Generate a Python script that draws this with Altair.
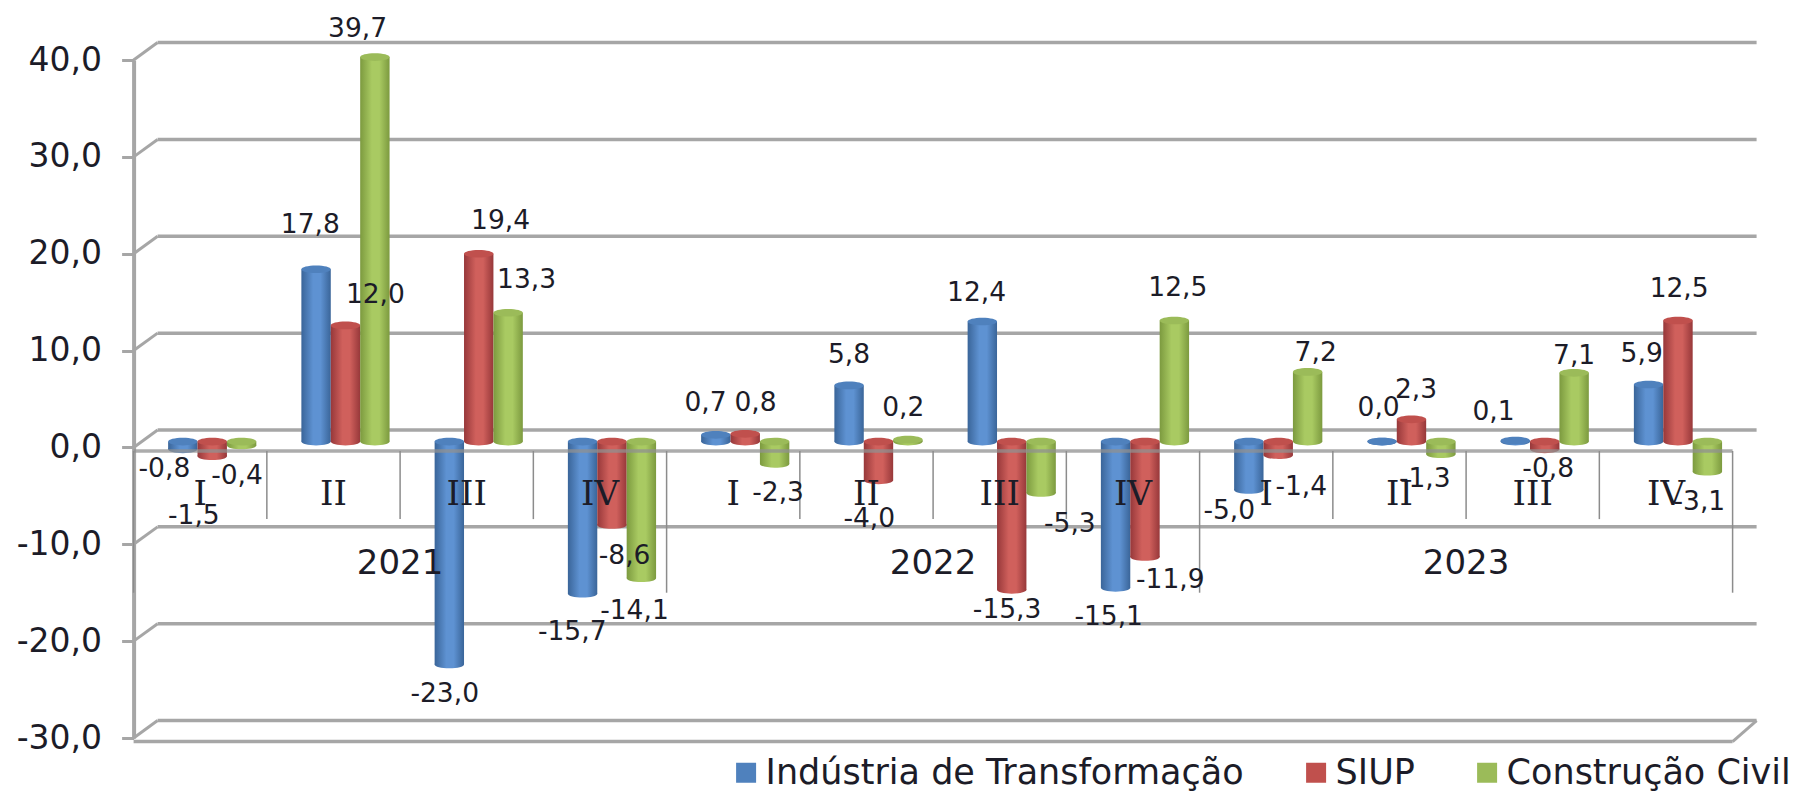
import altair as alt
import pandas as pd

quarters = ["I", "II", "III", "IV"] * 3
years = ["2021", "2022", "2023"]
series = ["Indústria de Transformação", "SIUP", "Construção Civil"]
industria = [-0.8, 17.8, -23.0, -15.7, 0.7, 5.8, 12.4, -15.1, -5.0, 0.0, 0.1, 5.9]
siup = [-1.5, 12.0, 19.4, -8.6, 0.8, -4.0, -15.3, -11.9, -1.4, 2.3, -0.8, 12.5]
construcao = [-0.4, 39.7, 13.3, -14.1, -2.3, 0.2, -5.3, 12.5, 7.2, -1.3, 7.1, -3.1]
values = [industria, siup, construcao]

# label nudges from the end of each bar, the labels were hand-placed in the original
nudge_x = [
    [-16, -5, -4, -9, -9, 0, -5, -6, -17, -3, -19, -6],
    [-16, 26, 19, 11, 9, -8, -4, 22, 20, 4, 3, 1],
    [-4, -15, 16, -6, 3, -4, 25, 3, 7, -14, 0, -7],
]
nudge_y = [
    [14, -42, 22, 30, -31, -30, -28, 22, 15, -33, -28, -30],
    [49, -30, -32, 24, -30, 30, 14, 17, 24, -29, 14, -31],
    [23, -28, -32, 25, 22, -31, 24, -32, -20, 18, -18, 23],
]

colors = ["#4F81BD", "#C0504D", "#9BBB59"]
edges = ["#3A6599", "#97383A", "#7C9A3F"]
mids = ["#5E92D2", "#D0605C", "#A9CA62"]
GRID = "#a6a6a6"
TXT = "#1c1c28"
FONT = "DejaVu Sans"

W, H = 1599, 678
UX, UY = W / 12, H / 70
DEPTH_X, DEPTH_Y = 24 / UX, 1.8
FRONT = -0.37
BAR = 29.4 / UX
SHIFT_X, SHIFT_Y = 12 / UX, 0.6
LABEL_Y = 0.2
PX = 1.1505

rows, labels = [], []
for s, name in enumerate(series):
    for i, v in enumerate(values[s]):
        c = i + 0.5 + SHIFT_X + (s - 1) * BAR
        rows.append({"series": name, "s": s, "x1": c - BAR / 2, "x2": c + BAR / 2, "xc": c,
                     "hi": max(v, 0) + SHIFT_Y, "lo": min(v, 0) + SHIFT_Y})
        labels.append({"t": f"{v:.1f}".replace(".", ","),
                       "x": c + nudge_x[s][i] * PX / UX,
                       "y": v + LABEL_Y - nudge_y[s][i] * PX / UY})
bars = pd.DataFrame(rows)
lab = pd.DataFrame(labels)

levels = list(range(-30, 50, 10))
XS = alt.Scale(domain=[0, 12], nice=False, zero=False)
YS = alt.Scale(domain=[-30, 40], nice=False, zero=False)
YAX = alt.Axis(
    values=levels,
    labelExpr="replace(replace(format(datum.value,'.1f'),'.',','),'\u2212','-')",
    title=None,
    labelFont=FONT, labelFontSize=33, labelColor=TXT, labelPadding=20,
    tickSize=12, tickColor=GRID, tickWidth=3, domainColor=GRID, domainWidth=4,
    grid=False)


def X(f):
    return alt.X(f, type="quantitative", scale=XS, axis=None)


def Y(f):
    return alt.Y(f, type="quantitative", scale=YS, axis=YAX)


grid = pd.DataFrame({"v": levels, "b": [v + DEPTH_Y for v in levels],
                     "x0": [0] * 8, "xd": [DEPTH_X] * 8, "xe": [12 + DEPTH_X] * 8})

layers = []
# side-wall diagonals from the axis to the back wall
layers.append(alt.Chart(grid).mark_rule(color=GRID, strokeWidth=3).encode(
    x=X("x0"), x2=alt.X2("xd"), y=Y("v"), y2=alt.Y2("b")))
# back wall lines
layers.append(alt.Chart(grid).mark_rule(color=GRID, strokeWidth=3.5).encode(
    x=X("xd"), x2=alt.X2("xe"), y=Y("b")))

# floor
floor = pd.DataFrame({"x0": [0], "x1": [12], "xr": [12 + DEPTH_X], "v": [-30 + FRONT], "b": [-30 + DEPTH_Y]})
layers.append(alt.Chart(floor).mark_rule(color=GRID, strokeWidth=3.5).encode(
    x=X("x0"), x2=alt.X2("x1"), y=Y("v")))
layers.append(alt.Chart(floor).mark_rule(color=GRID, strokeWidth=3).encode(
    x=X("x1"), x2=alt.X2("xr"), y=Y("v"), y2=alt.Y2("b")))

ELLIPSE = "M-1,0 A1,0.26 0 1 1 1,0 A1,0.26 0 1 1 -1,0 Z"


def grad(s):
    return alt.LinearGradient(
        gradient="linear", x1=0, x2=1, y1=0, y2=0,
        stops=[alt.GradientStop(color=edges[s], offset=0),
               alt.GradientStop(color=mids[s], offset=0.4),
               alt.GradientStop(color=mids[s], offset=0.65),
               alt.GradientStop(color=edges[s], offset=1)])


for s, name in enumerate(series):
    d = bars[bars["s"] == s]
    layers.append(alt.Chart(d).mark_point(filled=True, shape=ELLIPSE, size=864, opacity=1,
                                          fill=grad(s), strokeWidth=0).encode(
        x=X("xc"), y=Y("lo")))
    layers.append(alt.Chart(d).mark_rect(color=grad(s)).encode(
        x=X("x1"), x2=alt.X2("x2"), y=Y("hi"), y2=alt.Y2("lo")))
    layers.append(alt.Chart(d).mark_point(filled=True, shape=ELLIPSE, size=864, opacity=1,
                                          strokeWidth=0).encode(
        x=X("xc"), y=Y("hi"),
        color=alt.Color("series:N", scale=alt.Scale(domain=series, range=colors), legend=alt.Legend(
            orient="none", legendX=595, legendY=695, direction="horizontal", columns=3,
            title=None, symbolType="square", symbolSize=400, symbolOpacity=1,
            symbolStrokeWidth=0, labelFont=FONT, labelFontSize=35, labelColor=TXT,
            labelLimit=700, columnPadding=54, labelOffset=2))))

# front zero line, seen faintly across the bars
zero = pd.DataFrame({"x0": [0], "x1": [12], "v": [FRONT]})
layers.append(alt.Chart(zero).mark_rule(color="#909090", strokeWidth=3.5, opacity=0.75).encode(
    x=X("x0"), x2=alt.X2("x1"), y=Y("v")))

# category separators
qsep = pd.DataFrame({"x": [i for i in range(13) if i % 4], "a": FRONT, "b": -7.4})
ysep = pd.DataFrame({"x": [0, 4, 8, 12], "a": FRONT, "b": -15.0})
for d in (qsep, ysep):
    layers.append(alt.Chart(d).mark_rule(color="#8c8c8c", strokeWidth=1.5).encode(
        x=X("x"), y=Y("a"), y2=alt.Y2("b")))

# category and year labels
cats = pd.DataFrame({"t": quarters, "x": [i + 0.5 for i in range(12)], "y": [-4.9] * 12})
yrs = pd.DataFrame({"t": years, "x": [2, 6, 10], "y": [-12.04] * 3})
layers.append(alt.Chart(cats).mark_text(font="DejaVu Serif", fontSize=34, color=TXT, baseline="middle").encode(
    x=X("x"), y=Y("y"), text="t:N"))
layers.append(alt.Chart(yrs).mark_text(font=FONT, fontSize=34, color=TXT, baseline="middle").encode(
    x=X("x"), y=Y("y"), text="t:N"))

# value labels
layers.append(alt.Chart(lab).mark_text(font=FONT, fontSize=26.5, color=TXT, baseline="middle").encode(
    x=X("x"), y=Y("y"), text="t:N"))

chart = alt.layer(*layers).properties(
    width=W, height=H,
    autosize=alt.AutoSizeParams(type="none"),
    padding={"left": 125.6, "top": 52, "right": 63.4, "bottom": 55},
    background="white",
).configure_view(stroke=None)

chart.save("out.html", embed_options={"renderer": "svg", "actions": False})
